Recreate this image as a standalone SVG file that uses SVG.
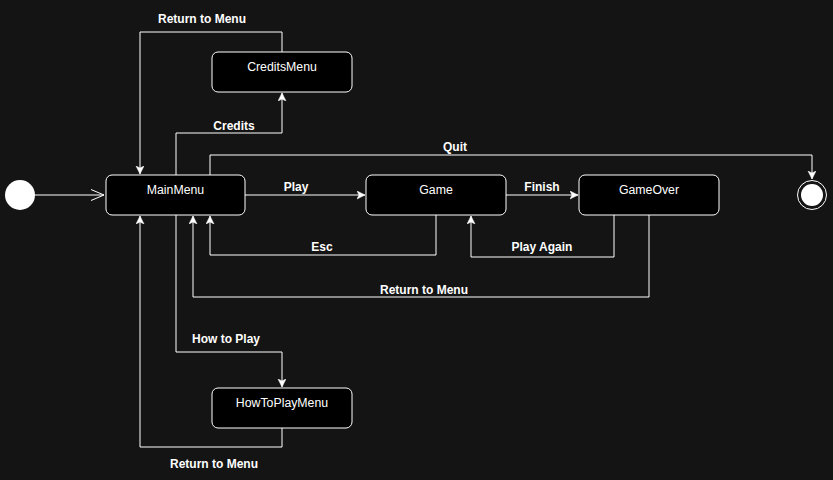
<svg xmlns="http://www.w3.org/2000/svg" width="833" height="480" viewBox="0 0 833 480">
<style>
.node rect{fill:#000;stroke:#fff;stroke-width:1}
.node text{fill:#fff;font-family:"Liberation Sans",Arial,sans-serif;font-size:12.3px;text-anchor:middle}
.edge{fill:none;stroke:#fff;stroke-width:1}
.lbl{fill:#fff;font-family:"Liberation Sans",Arial,sans-serif;font-size:12px;font-weight:bold;text-anchor:middle}
</style>
<defs>
<marker id="ar" markerUnits="userSpaceOnUse" markerWidth="10" markerHeight="10" refX="8" refY="4" orient="auto">
<path d="M0,0 L8,4 L0,8 L2,4 z" fill="#fff" stroke="#fff" stroke-width="0.5"/>
</marker>
<marker id="op" markerUnits="userSpaceOnUse" markerWidth="14" markerHeight="14" refX="13" refY="7" orient="auto">
<path d="M0,1.5 L13,7 L0,12.5" fill="none" stroke="#fff" stroke-width="1"/>
</marker>
</defs>
<rect width="833" height="480" fill="#141414"/>
<g id="connectors">
<path class="edge" d="M35,195 L104,195" marker-end="url(#op)"/>
<path class="edge" d="M176,175 L176,133 L282,133 L282,93" marker-end="url(#ar)"/>
<path class="edge" d="M282,52 L282,32 L140,32 L140,174" marker-end="url(#ar)"/>
<path class="edge" d="M210,175 L210,155 L812,155 L812,179" marker-end="url(#ar)"/>
<path class="edge" d="M245,195 L365,195" marker-end="url(#ar)"/>
<path class="edge" d="M436,215 L436,255 L210,255 L210,216" marker-end="url(#ar)"/>
<path class="edge" d="M506,195 L578,195" marker-end="url(#ar)"/>
<path class="edge" d="M614,215 L614,257 L471,257 L471,216" marker-end="url(#ar)"/>
<path class="edge" d="M649,215 L649,297 L193,297 L193,216" marker-end="url(#ar)"/>
<path class="edge" d="M176,215 L176,352 L282,352 L282,387" marker-end="url(#ar)"/>
<path class="edge" d="M282,428 L282,447 L140,447 L140,216" marker-end="url(#ar)"/>
<text class="lbl" x="202" y="23">Return to Menu</text>
<text class="lbl" x="234" y="130">Credits</text>
<text class="lbl" x="455" y="151">Quit</text>
<text class="lbl" x="296" y="191">Play</text>
<text class="lbl" x="542" y="191">Finish</text>
<text class="lbl" x="322" y="251">Esc</text>
<text class="lbl" x="542" y="251">Play Again</text>
<text class="lbl" x="424" y="294">Return to Menu</text>
<text class="lbl" x="226" y="343">How to Play</text>
<text class="lbl" x="214" y="468">Return to Menu</text>
</g>
<g id="initial"><circle cx="20" cy="195" r="15" fill="#fff"/></g>
<g id="final"><circle cx="812" cy="195" r="14.5" fill="none" stroke="#fff" stroke-width="1"/><circle cx="812" cy="195" r="11" fill="#fff"/></g>
<g id="MainMenu" class="node"><rect x="106" y="175" width="139" height="40" rx="6"/><text x="175.5" y="194">MainMenu</text></g>
<g id="CreditsMenu" class="node"><rect x="212" y="52" width="140" height="40" rx="6"/><text x="282" y="71">CreditsMenu</text></g>
<g id="Game" class="node"><rect x="366" y="175" width="140" height="40" rx="6"/><text x="436" y="194">Game</text></g>
<g id="GameOver" class="node"><rect x="579" y="175" width="140" height="40" rx="6"/><text x="649" y="194">GameOver</text></g>
<g id="HowToPlayMenu" class="node"><rect x="212" y="388" width="140" height="40" rx="6"/><text x="282" y="407">HowToPlayMenu</text></g>
</svg>
